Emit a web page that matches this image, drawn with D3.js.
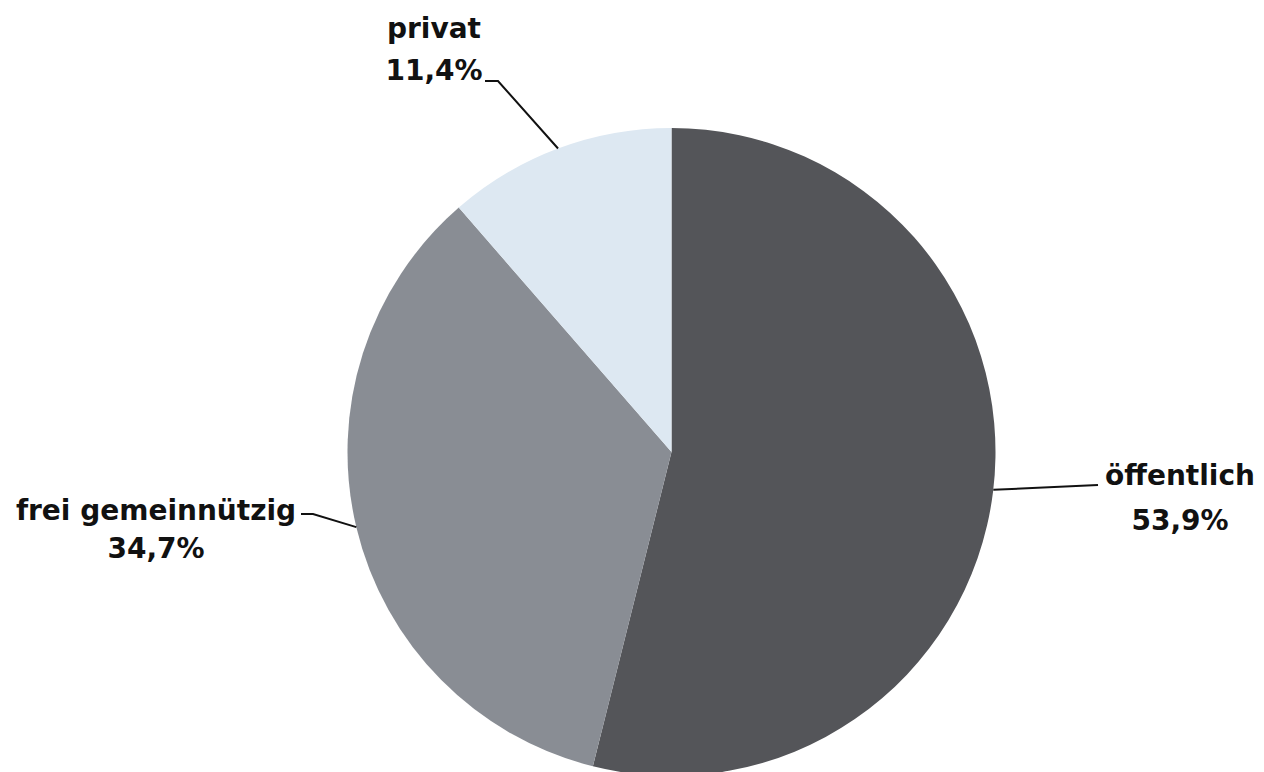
<!DOCTYPE html>
<html>
<head>
<meta charset="utf-8">
<script src="https://cdn.jsdelivr.net/npm/d3@7"></script>
<style>
  html, body { margin: 0; padding: 0; background: #fff; }
  svg { display: block; }
  text { font-family: "DejaVu Sans", sans-serif; font-weight: bold; font-size: 28px; fill: #111; }
</style>
</head>
<body>
<svg id="chart" width="1264" height="772"></svg>
<script>
// Anteil der Träger (Prozent)
const categories = ["öffentlich", "frei gemeinnützig", "privat"];
const shares = [53.9, 34.7, 11.4];
const valueLabels = ["53,9%", "34,7%", "11,4%"];
const colors = ["#545559", "#898d94", "#dde8f2"];

const svg = d3.select("#chart");
const cx = 671.5, cy = 452, radius = 324;

const pie = d3.pie().sort(null).value(d => d.value);
const arc = d3.arc().innerRadius(0).outerRadius(radius);

const data = categories.map((c, i) => ({ name: c, value: shares[i], label: valueLabels[i], color: colors[i] }));
const arcs = pie(data);

const g = svg.append("g").attr("transform", `translate(${cx},${cy})`);

g.selectAll("path.slice")
  .data(arcs)
  .join("path")
  .attr("class", "slice")
  .attr("d", arc)
  .attr("fill", d => d.data.color);

// Leader lines and labels: anchor on the rim at a given angle, then an elbow to the label
const labelLayout = {
  "öffentlich":        { angle: 96.7, elbow: [1098, 485], end: null,  text: [1180, 485], dy: 45 },
  "frei gemeinnützig": { angle: 256.6, elbow: [313, 514], end: [301, 514], text: [156, 520], dy: 38 },
  "privat":            { angle: 339.5, elbow: [498, 81], end: [485, 81], text: [434, 38], dy: 42 }
};

arcs.forEach(a => {
  const L = labelLayout[a.data.name];
  const rad = L.angle * Math.PI / 180;
  const px = cx + radius * Math.sin(rad);
  const py = cy - radius * Math.cos(rad);
  const pts = [[px, py], L.elbow];
  if (L.end) pts.push(L.end);
  svg.append("path")
    .attr("d", d3.line()(pts))
    .attr("fill", "none")
    .attr("stroke", "#111")
    .attr("stroke-width", 2);

  const t = svg.append("text")
    .attr("x", L.text[0])
    .attr("y", L.text[1])
    .attr("text-anchor", "middle");
  t.append("tspan").attr("x", L.text[0]).text(a.data.name);
  t.append("tspan").attr("x", L.text[0]).attr("dy", L.dy).text(a.data.label);
});
</script>
</body>
</html>
